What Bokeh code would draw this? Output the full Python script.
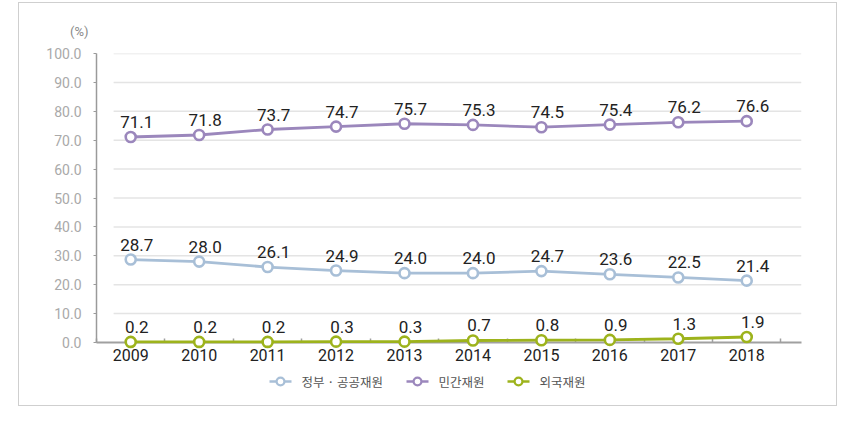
from bokeh.plotting import figure
from bokeh.models import (Range1d, FixedTicker, PrintfTickFormatter,
                          ColumnDataSource)
from bokeh.core.properties import value
from bokeh.embed import file_html
from bokeh.resources import INLINE

# ---- data ----
years = [2009, 2010, 2011, 2012, 2013, 2014, 2015, 2016, 2017, 2018]
public = [28.7, 28.0, 26.1, 24.9, 24.0, 24.0, 24.7, 23.6, 22.5, 21.4]
private = [71.1, 71.8, 73.7, 74.7, 75.7, 75.3, 74.5, 75.4, 76.2, 76.6]
foreign = [0.2, 0.2, 0.2, 0.3, 0.3, 0.7, 0.8, 0.9, 1.3, 1.9]
series_names = ["정부 · 공공재원", "민간재원", "외국재원"]
y_ticks = [0, 10, 20, 30, 40, 50, 60, 70, 80, 90, 100]
unit_label = "(%)"

colors = ["#a8bfd7", "#9b87bc", "#9db31c"]
NUM_FONT = "Roboto"

FRAME_W, FRAME_H = 705, 289
x_start, x_end = years[0] - 0.5, years[-1] + 0.8
p = figure(width=819, height=404, output_backend="svg", toolbar_location=None,
           x_range=Range1d(x_start, x_end), y_range=Range1d(0, 100),
           min_border_left=77, min_border_right=37, min_border_top=50,
           min_border_bottom=65)
# pixel-like helper ranges for placing the legend below the frame
p.extra_x_ranges = {"lx": Range1d(0, FRAME_W)}
p.extra_y_ranges = {"ly": Range1d(0, FRAME_H)}
p.margin = (2, 0, 0, 18)
p.styles = {"border": "1px solid #cfcfcf"}
p.outline_line_color = None
p.background_fill_color = "white"
p.border_fill_color = "white"
p.xgrid.visible = False
p.ygrid.visible = False

grid_y = [t for t in y_ticks if t > 0]
p.segment(x0=[x_start + 0.25] * len(grid_y), x1=[x_end] * len(grid_y),
          y0=grid_y, y1=grid_y, line_color="#e4e4e4", line_width=1.5,
          level="underlay")

ya = p.yaxis[0]
ya.ticker = FixedTicker(ticks=y_ticks)
ya.formatter = PrintfTickFormatter(format="%.1f")
ya.axis_line_color = "#9a9a9a"
ya.axis_line_width = 1.5
ya.major_tick_line_color = "#9a9a9a"
ya.major_tick_in = 0
ya.major_tick_out = 3
ya.minor_tick_line_color = None
ya.major_label_standoff = 12
ya.major_label_text_font = "Roboto"
ya.major_label_text_font_size = "14px"
ya.major_label_text_color = "#a9a9a9"

xa = p.xaxis[0]
xa.ticker = FixedTicker(ticks=years, minor_ticks=[y + 0.5 for y in [years[0] - 1] + years])
xa.axis_line_color = "#a0a0a0"
xa.axis_line_width = 2
xa.major_tick_line_color = None
xa.major_tick_in = 0
xa.major_tick_out = 0
xa.minor_tick_line_color = "#a0a0a0"
xa.minor_tick_line_width = 1.5
xa.minor_tick_in = 4
xa.minor_tick_out = 0
xa.major_label_standoff = 6
xa.major_label_text_font = "Roboto"
xa.major_label_text_font_size = "16px"
xa.major_label_text_color = "#222222"

for name, vals, col in zip(series_names, [public, private, foreign], colors):
    src = ColumnDataSource(dict(x=years, y=vals, t=["%.1f" % v for v in vals]))
    p.line("x", "y", source=src, line_color=col, line_width=2.8, level="overlay")
    p.scatter("x", "y", source=src, size=10, marker="circle",
              fill_color="white", line_color=col, line_width=2.6,
              level="overlay")
    p.text("x", "y", text="t", source=src, text_font=value(NUM_FONT),
           text_font_size="17px", text_color="#222222", text_align="center",
           text_baseline="alphabetic", x_offset=6, y_offset=-15,
           level="overlay")

# unit label above the y axis
p.text(x=[x_start], y=[y_ticks[-1]], text=[unit_label], x_offset=-8,
       y_offset=-22, text_font=value("Roboto"), text_font_size="13px",
       text_color="#8a8a8a", text_align="right", text_baseline="middle",
       level="overlay")

# legend row below the x axis (drawn with unclipped overlay glyphs)
label_widths = [86, 50, 50]     # estimated label widths (px)
glyph_w, standoff, gap = 22, 10, 19
leg_x0, leg_y = 173, -39
gx = []
cur = leg_x0
for w in label_widths:
    gx.append(cur)
    cur += glyph_w + standoff + w + gap
leg = ColumnDataSource(dict(
    x0=gx, x1=[g + glyph_w for g in gx], xc=[g + glyph_w / 2 for g in gx],
    xc1=[g + glyph_w / 2 + 0.01 for g in gx],
    xt=[g + glyph_w + standoff for g in gx], y=[leg_y] * 3,
    c=colors, t=series_names))
p.segment(x0="x0", x1="x1", y0="y", y1="y", source=leg, line_color="c",
          line_width=2.5, x_range_name="lx", y_range_name="ly", level="overlay")
# legend ring markers: round-capped dots (coloured outer, white inner)
p.segment(x0="xc", x1="xc1", y0="y", y1="y", source=leg, line_color="c",
          line_width=10, line_cap="round", x_range_name="lx",
          y_range_name="ly", level="overlay")
p.segment(x0="xc", x1="xc1", y0="y", y1="y", source=leg, line_color="white",
          line_width=5.5, line_cap="round", x_range_name="lx",
          y_range_name="ly", level="overlay")
p.text(x="xt", y="y", text="t", source=leg, text_font=value("Noto Sans CJK KR"),
       text_font_size="12.5px", text_color="#555555", text_align="left",
       text_baseline="middle", x_range_name="lx", y_range_name="ly",
       level="overlay")

open("out.html", "w").write(file_html(p, INLINE))
